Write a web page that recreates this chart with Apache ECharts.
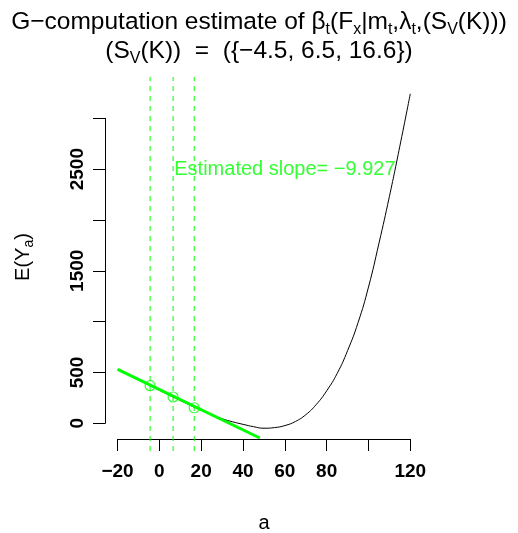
<!DOCTYPE html>
<html>
<head>
<meta charset="utf-8">
<script src="https://cdn.jsdelivr.net/npm/echarts@6/dist/echarts.min.js"></script>
<style>
  html, body { margin: 0; padding: 0; background: #fff; }
  #chart { width: 518px; height: 533px; }
</style>
</head>
<body>
<div id="chart"></div>
<script>
// E(Y_a) curve
const curveA = [-20, -15, -10, -5, 0, 5, 10, 15, 20, 25, 30, 35, 40, 45, 50, 55, 60, 65, 70, 75, 80, 85, 90, 95, 100, 105, 110, 115, 120]
const curveY = [530, 478, 425, 375, 325, 274, 225, 175, 128, 84, 45, 15, -10, -33, -48, -42, -22, 18, 85, 185, 320, 490, 715, 990, 1340, 1770, 2230, 2725, 3240]

// the three support points S_V(K) and their estimates
const pointA = [-4.5, 6.5, 16.6]
const pointY = [370, 259, 153]

// fitted slope line (ends)
const slopeA = [-20, 48]
const slopeY = [531, -144]

const slopeText = 'Estimated slope= −9.927'
const slopeTextAt = [60, 2500]

// tick labels that R kept (others dropped for overlap)
const xLabelsShown = [-20, 0, 20, 40, 60, 80, 120]
const yLabelsShown = [0, 500, 1500, 2500]

const FONT = '"Liberation Sans", Arial, Helvetica, sans-serif'
const GREEN = '#00ff00'
const yLo = -272
const yHi = 3405

const minus = v => (v < 0 ? '−' + (-v) : String(v))

const chart = echarts.init(document.getElementById('chart'), null, { renderer: 'canvas' })

const sub = { fontSize: 16, fontFamily: FONT, color: '#000', verticalAlign: 'bottom', lineHeight: 16 }
const norm = { fontSize: 24.5, fontFamily: FONT, color: '#000', lineHeight: 31 }

const option = {
  animation: false,
  backgroundColor: '#fff',
  title: [
    {
      left: 'center',
      top: 7,
      padding: 0,
      text: '{n|G−computation estimate of β}{s|t}{n|(F}{s|x}{n||m}{s|t}{n|,λ}{s|t}{n|,(S}{s|V}{n|(K)))}',
      textStyle: { fontSize: 24.5, fontFamily: FONT, fontWeight: 'normal', color: '#000', lineHeight: 31, rich: { n: norm, s: sub } }
    },
    {
      left: 'center',
      top: 36,
      padding: 0,
      text: '{n|(S}{s|V}{n|(K))  =  (}{−4.5, 6.5, 16.6}{n|)}',
      textStyle: { fontSize: 24.5, fontFamily: FONT, fontWeight: 'normal', color: '#000', lineHeight: 31, rich: { n: norm, s: sub } }
    }
  ],
  graphic: [
    {
      type: 'text',
      x: 264,
      y: 523,
      style: { text: 'a', font: '20px ' + FONT, fill: '#000', align: 'center', verticalAlign: 'middle' }
    },
    {
      type: 'text',
      x: 23,
      y: 257,
      rotation: Math.PI / 2,
      style: {
        text: '{n|E(Y}{s|a}{n|)}',
        align: 'center',
        verticalAlign: 'middle',
        rich: {
          n: { fontSize: 20, fontFamily: FONT, fill: '#000', lineHeight: 26 },
          s: { fontSize: 14, fontFamily: FONT, fill: '#000', verticalAlign: 'bottom', lineHeight: 14 }
        }
      }
    }
  ],
  grid: [
    // plotting region
    { left: 106, top: 77, width: 316, height: 374 },
    // x axis only
    { left: 117.5, top: 438, width: 292.8, height: 1 },
    // y axis only
    { left: 105, top: 118.3, width: 1, height: 305 }
  ],
  xAxis: [
    { gridIndex: 0, type: 'value', min: -25.6, max: 125.6, show: false },
    {
      gridIndex: 1,
      type: 'value',
      min: -20,
      max: 120,
      interval: 20,
      position: 'bottom',
      axisLine: { show: true, lineStyle: { color: '#000', width: 1 } },
      axisTick: { show: true, inside: false, length: 12, lineStyle: { color: '#000', width: 1 } },
      axisLabel: {
        show: true,
        margin: 23,
        fontSize: 19,
        fontWeight: 'bold',
        fontFamily: FONT,
        color: '#000',
        showMinLabel: true,
        showMaxLabel: true,
        hideOverlap: false,
        formatter: v => (xLabelsShown.includes(v) ? minus(v) : '')
      },
      splitLine: { show: false }
    },
    { gridIndex: 2, type: 'value', show: false }
  ],
  yAxis: [
    { gridIndex: 0, type: 'value', min: yLo, max: yHi, show: false },
    { gridIndex: 1, type: 'value', show: false },
    {
      gridIndex: 2,
      type: 'value',
      min: 0,
      max: 3000,
      interval: 500,
      position: 'left',
      axisLine: { show: true, lineStyle: { color: '#000', width: 1 } },
      axisTick: { show: true, inside: false, length: 12, lineStyle: { color: '#000', width: 1 } },
      axisLabel: {
        show: true,
        rotate: 90,
        margin: 18,
        fontSize: 19,
        fontWeight: 'bold',
        fontFamily: FONT,
        color: '#000',
        showMinLabel: true,
        showMaxLabel: true,
        hideOverlap: false,
        formatter: v => (yLabelsShown.includes(v) ? String(v) : '')
      },
      splitLine: { show: false }
    }
  ],
  series: [
    {
      name: 'curve',
      type: 'line',
      xAxisIndex: 0,
      yAxisIndex: 0,
      data: curveA.map((a, i) => [a, curveY[i]]),
      smooth: 0.5,
      showSymbol: false,
      lineStyle: { color: '#000', width: 1 },
      z: 2
    },
    ...pointA.map(a => ({
      type: 'line',
      xAxisIndex: 0,
      yAxisIndex: 0,
      data: [[a, yLo], [a, yHi]],
      showSymbol: false,
      lineStyle: { color: GREEN, width: 1, type: [5, 5] },
      z: 1
    })),
    {
      name: 'slope',
      type: 'line',
      xAxisIndex: 0,
      yAxisIndex: 0,
      data: slopeA.map((a, i) => [a, slopeY[i]]),
      showSymbol: false,
      lineStyle: { color: GREEN, width: 3 },
      z: 3
    },
    {
      name: 'points',
      type: 'scatter',
      xAxisIndex: 0,
      yAxisIndex: 0,
      data: pointA.map((a, i) => [a, pointY[i]]),
      symbol: 'circle',
      symbolSize: 10,
      itemStyle: { color: 'rgba(0,0,0,0)', borderColor: GREEN, borderWidth: 1.2 },
      z: 4
    },
    {
      name: 'label',
      type: 'scatter',
      xAxisIndex: 0,
      yAxisIndex: 0,
      data: [slopeTextAt],
      symbolSize: 0,
      label: {
        show: true,
        position: 'inside',
        formatter: slopeText,
        fontSize: 20,
        fontFamily: FONT,
        color: GREEN
      },
      z: 5
    }
  ]
}

chart.setOption(option)
</script>
</body>
</html>
